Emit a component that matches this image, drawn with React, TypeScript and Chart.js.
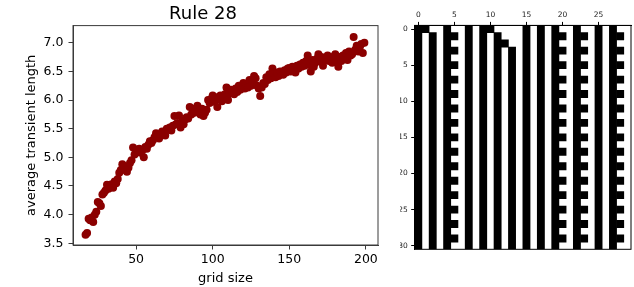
import React, { useEffect, useRef } from 'react';
import { Chart, registerables } from 'chart.js';

Chart.register(...registerables);

const FONT = 'DejaVu Sans';

const TITLE = 'Rule 28';
const X_LABEL = 'grid size';
const Y_LABEL = 'average transient length';

const X_TICKS = [50, 100, 150, 200];
const Y_TICKS = [3.5, 4.0, 4.5, 5.0, 5.5, 6.0, 6.5, 7.0];

const GRID_SIZES = [
  17, 18, 19, 20, 21, 22, 23, 24, 25, 26, 27, 28, 29, 30, 31, 32, 33, 34, 35, 36,
  37, 38, 39, 40, 41, 42, 43, 44, 45, 46, 47, 48, 49, 50, 51, 52, 53, 54, 55, 56,
  57, 58, 59, 60, 61, 62, 63, 64, 65, 66, 67, 68, 69, 70, 71, 72, 73, 74, 75, 76,
  77, 78, 79, 80, 81, 82, 83, 84, 85, 86, 87, 88, 89, 90, 91, 92, 93, 94, 95, 96,
  97, 98, 99, 100, 101, 102, 103, 104, 105, 106, 107, 108, 109, 110, 111, 112, 113, 114, 115, 116,
  117, 118, 119, 120, 121, 122, 123, 124, 125, 126, 127, 128, 129, 130, 131, 132, 133, 134, 135, 136,
  137, 138, 139, 140, 141, 142, 143, 144, 145, 146, 147, 148, 149, 150, 151, 152, 153, 154, 155, 156,
  157, 158, 159, 160, 161, 162, 163, 164, 165, 166, 167, 168, 169, 170, 171, 172, 173, 174, 175, 176,
  177, 178, 179, 180, 181, 182, 183, 184, 185, 186, 187, 188, 189, 190, 191, 192, 193, 194, 195, 196,
  197, 198, 199,
];

const TRANSIENT_LENGTH = [
  3.65, 3.68, 3.93, 3.90, 3.95, 3.87, 4.00, 4.05, 4.22, 4.20, 4.15, 4.35, 4.38, 4.42, 4.52, 4.45, 4.50, 4.53, 4.47, 4.58,
  4.55, 4.62, 4.73, 4.78, 4.88, 4.85, 4.78, 4.75, 4.82, 4.90, 4.95, 5.17, 5.05, 5.12, 5.10, 5.15, 5.08, 5.12, 5.00, 5.18,
  5.15, 5.22, 5.28, 5.25, 5.30, 5.35, 5.42, 5.38, 5.33, 5.40, 5.45, 5.42, 5.38, 5.50, 5.48, 5.52, 5.47, 5.55, 5.72, 5.58,
  5.60, 5.73, 5.52, 5.62, 5.58, 5.66, 5.70, 5.68, 5.88, 5.75, 5.85, 5.78, 5.82, 5.90, 5.80, 5.75, 5.85, 5.72, 5.78, 5.83,
  6.00, 5.95, 6.02, 6.08, 5.97, 6.05, 5.88, 6.02, 6.08, 5.98, 6.05, 6.10, 6.22, 6.00, 6.12, 6.18, 6.15, 6.10, 6.20, 6.14,
  6.25, 6.18, 6.22, 6.30, 6.20, 6.28, 6.22, 6.35, 6.25, 6.32, 6.42, 6.38, 6.25, 6.20, 6.07, 6.22, 6.30, 6.28, 6.40, 6.35,
  6.45, 6.38, 6.55, 6.45, 6.40, 6.48, 6.42, 6.50, 6.47, 6.44, 6.52, 6.48, 6.55, 6.56, 6.50, 6.58, 6.52, 6.48, 6.60, 6.55,
  6.62, 6.58, 6.65, 6.60, 6.68, 6.78, 6.62, 6.50, 6.70, 6.58, 6.65, 6.72, 6.80, 6.68, 6.75, 6.60, 6.72, 6.70, 6.78, 6.68,
  6.75, 6.65, 6.72, 6.80, 6.70, 6.58, 6.75, 6.68, 6.78, 6.72, 6.82, 6.70, 6.85, 6.78, 6.80, 7.10, 6.88, 6.95, 6.85, 6.92,
  6.98, 6.82, 7.00,
];

// Cellular automaton rows (time steps 0..30), '#' = black cell
const CA_ROWS = [
  '##..#..#.##....#.#.#..#..#.#..',
  '#.#.##.#.#.#...#.#.##.##.#.##.',
  '#.#.#..#.#.##..#.#.#..#..#.#..',
  '#.#.##.#.#.#.#.#.#.##.##.#.##.',
  '#.#.#..#.#.#.#.#.#.#..#..#.#..',
  '#.#.##.#.#.#.#.#.#.##.##.#.##.',
  '#.#.#..#.#.#.#.#.#.#..#..#.#..',
  '#.#.##.#.#.#.#.#.#.##.##.#.##.',
  '#.#.#..#.#.#.#.#.#.#..#..#.#..',
  '#.#.##.#.#.#.#.#.#.##.##.#.##.',
  '#.#.#..#.#.#.#.#.#.#..#..#.#..',
  '#.#.##.#.#.#.#.#.#.##.##.#.##.',
  '#.#.#..#.#.#.#.#.#.#..#..#.#..',
  '#.#.##.#.#.#.#.#.#.##.##.#.##.',
  '#.#.#..#.#.#.#.#.#.#..#..#.#..',
  '#.#.##.#.#.#.#.#.#.##.##.#.##.',
  '#.#.#..#.#.#.#.#.#.#..#..#.#..',
  '#.#.##.#.#.#.#.#.#.##.##.#.##.',
  '#.#.#..#.#.#.#.#.#.#..#..#.#..',
  '#.#.##.#.#.#.#.#.#.##.##.#.##.',
  '#.#.#..#.#.#.#.#.#.#..#..#.#..',
  '#.#.##.#.#.#.#.#.#.##.##.#.##.',
  '#.#.#..#.#.#.#.#.#.#..#..#.#..',
  '#.#.##.#.#.#.#.#.#.##.##.#.##.',
  '#.#.#..#.#.#.#.#.#.#..#..#.#..',
  '#.#.##.#.#.#.#.#.#.##.##.#.##.',
  '#.#.#..#.#.#.#.#.#.#..#..#.#..',
  '#.#.##.#.#.#.#.#.#.##.##.#.##.',
  '#.#.#..#.#.#.#.#.#.#..#..#.#..',
  '#.#.##.#.#.#.#.#.#.##.##.#.##.',
  '#.#.#..#.#.#.#.#.#.#..#..#.#..',
];

const CA_X_TICKS = [0, 5, 10, 15, 20, 25];
const CA_Y_TICKS = [0, 5, 10, 15, 20, 25, 30];

function buildCellBars(rows: string[]) {
  const bars: { x: number; y: [number, number] }[] = [];
  const nCols = rows[0].length;
  for (let c = 0; c < nCols; c++) {
    let start = -1;
    for (let r = 0; r <= rows.length; r++) {
      const on = r < rows.length && rows[r][c] === '#';
      if (on && start < 0) start = r;
      if (!on && start >= 0) {
        bars.push({ x: c, y: [start - 0.5, r - 1 + 0.5] });
        start = -1;
      }
    }
  }
  return bars;
}

const framePlugin = {
  id: 'frame',
  afterDraw(chart: any, _args: any, opts: any) {
    const { ctx, chartArea: a } = chart;
    ctx.save();
    ctx.strokeStyle = opts.color || '#000';
    ctx.lineWidth = 1;
    ctx.strokeRect(a.left, a.top, a.right - a.left, a.bottom - a.top);
    ctx.restore();
  },
};

export default function App() {
  const leftRef = useRef<HTMLCanvasElement>(null);
  const rightRef = useRef<HTMLCanvasElement>(null);

  useEffect(() => {
    const axisColor = '#3a3a3a';
    const tickFont = { family: FONT, size: 12.5 };
    const c1 = new Chart(leftRef.current as HTMLCanvasElement, {
      type: 'scatter',
      data: {
        datasets: [
          {
            data: GRID_SIZES.map((x, i) => ({ x, y: TRANSIENT_LENGTH[i] })),
            backgroundColor: '#8b0000',
            borderWidth: 0,
            pointRadius: 4,
            pointHoverRadius: 4,
          },
        ],
      },
      options: {
        responsive: false,
        animation: false,
        events: [],
        layout: { padding: { left: 0, right: 0, top: 0, bottom: 0 } },
        plugins: {
          legend: { display: false },
          tooltip: { enabled: false },
          title: {
            display: true,
            text: TITLE,
            color: '#000',
            font: { family: FONT, size: 18, weight: 'normal' },
            padding: { top: 4, bottom: 0 },
          },
          frame: { color: axisColor },
        } as any,
        scales: {
          x: {
            type: 'linear',
            min: 8.8,
            max: 207.9,
            afterBuildTicks: (s: any) => {
              s.ticks = X_TICKS.map((v) => ({ value: v }));
            },
            afterFit: (s: any) => {
              s.height = 42;
            },
            grid: { drawOnChartArea: false, tickLength: 4.5, color: axisColor },
            border: { color: axisColor },
            ticks: { font: tickFont, color: '#000', padding: 3, maxRotation: 0 },
            title: {
              display: true,
              text: X_LABEL,
              color: '#000',
              font: { family: FONT, size: 13 },
              padding: { top: 0, bottom: 1 },
            },
          },
          y: {
            type: 'linear',
            min: 3.47,
            max: 7.3,
            afterBuildTicks: (s: any) => {
              s.ticks = Y_TICKS.map((v) => ({ value: v }));
            },
            afterFit: (s: any) => {
              s.width = 73;
            },
            grid: { drawOnChartArea: false, tickLength: 4.5, color: axisColor },
            border: { color: axisColor },
            ticks: {
              font: tickFont,
              color: '#000',
              padding: 5,
              callback: (v: any) => Number(v).toFixed(1),
            },
            title: {
              display: true,
              text: Y_LABEL,
              color: '#000',
              font: { family: FONT, size: 13 },
              padding: { top: 24, bottom: 0 },
            },
          },
          spacer: {
            type: 'linear',
            position: 'right',
            display: true,
            min: 0,
            max: 1,
            afterFit: (s: any) => {
              s.width = 28;
            },
            grid: { display: false, drawTicks: false },
            border: { display: false },
            ticks: { display: false },
          },
        },
      },
      plugins: [framePlugin],
    } as any);

    const smallFont = { family: FONT, size: 7.5 };
    const c2 = new Chart(rightRef.current as HTMLCanvasElement, {
      type: 'bar',
      data: {
        datasets: [
          {
            data: buildCellBars(CA_ROWS),
            backgroundColor: '#000',
            borderWidth: 0,
            barPercentage: 1,
            categoryPercentage: 1,
          },
        ],
      },
      options: {
        responsive: false,
        animation: false,
        events: [],
        layout: { padding: { left: 0, right: 3, top: 0, bottom: 37.7 } },
        plugins: {
          legend: { display: false },
          tooltip: { enabled: false },
          frame: { color: '#000' },
        } as any,
        scales: {
          x: {
            type: 'linear',
            position: 'top',
            min: -0.5,
            max: 29.5,
            offset: false,
            afterBuildTicks: (s: any) => {
              s.ticks = CA_X_TICKS.map((v) => ({ value: v }));
            },
            afterFit: (s: any) => {
              s.height = 25.4;
            },
            grid: { drawOnChartArea: false, offset: false, tickLength: 3.5, color: '#000' },
            border: { color: '#000' },
            ticks: { font: smallFont, color: '#222', padding: 2.5, maxRotation: 0 },
          },
          y: {
            type: 'linear',
            reverse: true,
            min: -0.5,
            max: 30.5,
            afterBuildTicks: (s: any) => {
              s.ticks = CA_Y_TICKS.map((v) => ({ value: v }));
            },
            afterFit: (s: any) => {
              s.width = 14.7;
            },
            grid: { drawOnChartArea: false, tickLength: 3.5, color: '#000' },
            border: { color: '#000' },
            ticks: { font: smallFont, color: '#222', padding: 3.5 },
          },
        },
      },
      plugins: [framePlugin],
    } as any);

    return () => {
      c1.destroy();
      c2.destroy();
    };
  }, []);

  return (
    <div
      style={{
        position: 'fixed',
        left: 0,
        top: 0,
        width: 634,
        height: 287,
        background: '#fff',
        overflow: 'hidden',
      }}
    >
      <canvas
        ref={leftRef}
        width={406}
        height={287}
        style={{ position: 'absolute', left: 0, top: 0, width: 406, height: 287 }}
      />
      <canvas
        ref={rightRef}
        width={234}
        height={287}
        style={{ position: 'absolute', left: 400, top: 0, width: 234, height: 287 }}
      />
    </div>
  );
}
